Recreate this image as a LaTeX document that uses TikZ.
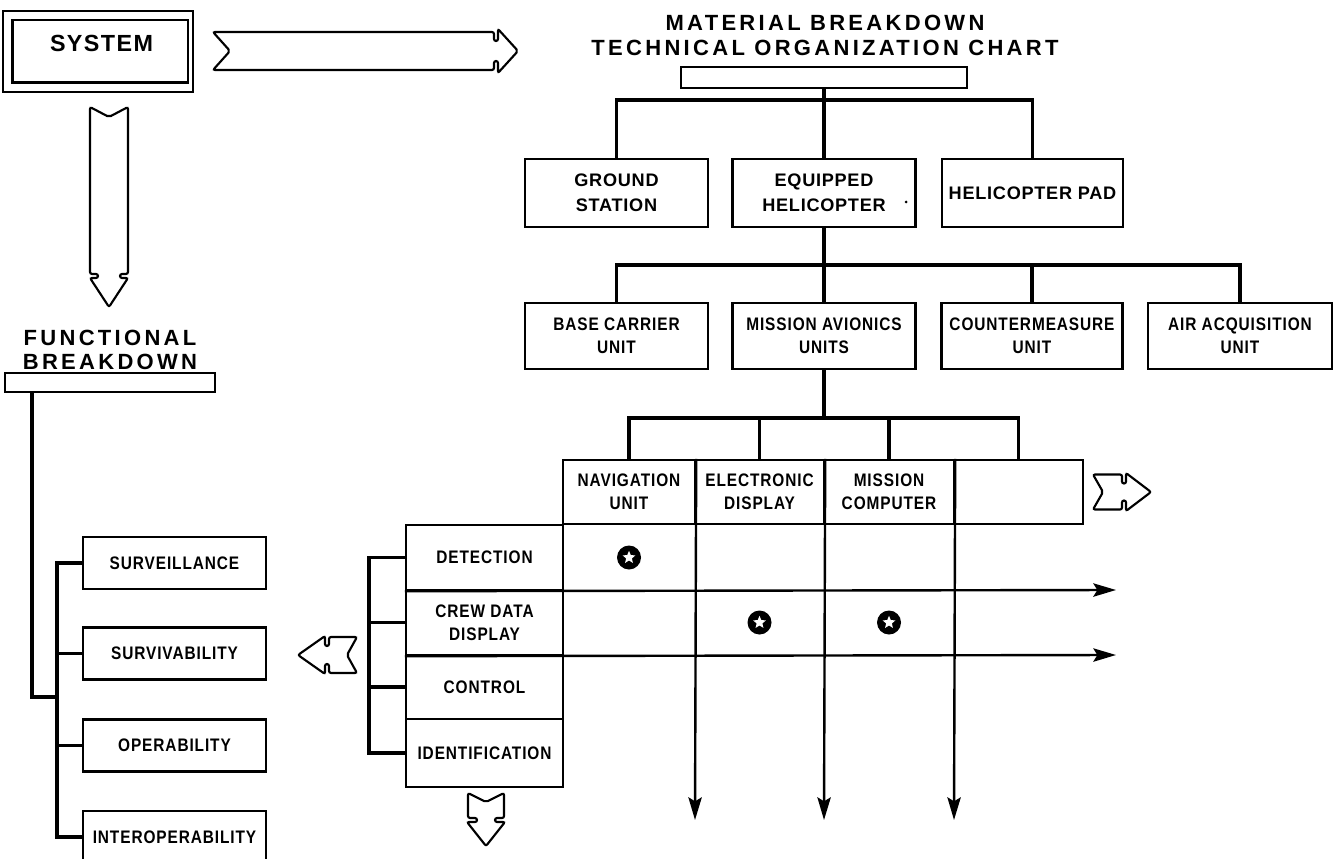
\documentclass[tikz,border=0pt]{standalone}
\usepackage{fontspec}
\setmainfont{Liberation Sans}
\newfontfamily\titf[LetterSpace=15]{Liberation Sans}
\newfontfamily\sysf[LetterSpace=6]{Liberation Sans}
\newfontfamily\medf[LetterSpace=4]{Liberation Sans}
\newfontfamily\condf[FakeStretch=0.85,LetterSpace=5]{Liberation Sans}
\usetikzlibrary{arrows.meta,shapes.geometric}
\newcommand\harrow[9]{%
\begin{scope}[shift={(#1,#2)},rotate=#3]
\draw[hollow] (0,-#5) -- ({#4-#7-3},-#5) -- ({#4-#7-3},{-#5+#8}) -- ({#4-#7+1},{-#5+#8}) -- ({#4-#7+1},-#6) -- (#4,0) -- ({#4-#7+1},#6) -- ({#4-#7+1},{#5-#8}) -- ({#4-#7-3},{#5-#8}) -- ({#4-#7-3},#5) -- (0,#5) -- (#9,0) -- cycle;
\end{scope}}
\begin{document}
\begin{tikzpicture}[x=0.75pt,y=-0.75pt,
  sz/.style 2 args={minimum width=#1*0.75pt, minimum height=#2*0.75pt},
  box/.style={draw, line width=1.8pt, inner sep=0pt, align=center},
  cell/.style={draw, line width=1.8pt, inner sep=0pt, align=center},
  boxline/.style={line width=1.8pt},
  medlab/.style={font=\medf\bfseries\fontsize{13.6}{18.75}\selectfont},
  condlab/.style={font=\condf\bfseries\fontsize{13.6}{17.25}\selectfont},
  titlab/.style={font=\titf\bfseries\fontsize{16.5}{18.75}\selectfont, align=center},
  ftitlab/.style={font=\titf\bfseries\fontsize{16.5}{18}\selectfont, align=center},
  syslab/.style={font=\sysf\bfseries\fontsize{17.5}{20}\selectfont},
  conn/.style={line width=2.6pt},
  arr/.style={line width=1.8pt, -{Stealth[length=17pt,width=10pt,inset=3pt]}},
  hollow/.style={line width=1.6pt, rounded corners=1.5pt, fill=white},
  dot/.style={circle, fill=black, inner sep=0pt, minimum size=18pt},
  wstar/.style={star, star points=5, star point ratio=2.2, fill=white, inner sep=0pt, minimum size=10pt}
]
\useasboundingbox (0,0) rectangle (1334,859);

% SYSTEM
\node[box, sz={175.5}{62.5}] (sys) at (100.25,51.25) {};
\draw[boxline] ([shift={(-8.5,-8)}]sys.north west) rectangle ([shift={(4,8.5)}]sys.south east);
\node[syslab] (systxt) at (101.5,43) {SYSTEM};

% big hollow arrows
\harrow{213}{51}{0}{305}{19}{22}{21}{9}{17}
\harrow{109}{107}{-90}{200}{19}{19}{30}{8}{10}

% material breakdown
\node[titlab] (mtitle) at (825,35) {MATERIAL BREAKDOWN\\TECHNICAL ORGANIZATION CHART};
\node[box, sz={286}{21}] (tb) at (824,77.5) {};

\node[box, medlab, sz={183}{68}] (gs) at (616.5,193) {GROUND\\STATION};
\node[box, medlab, sz={183}{68}] (eh) at (824,193) {EQUIPPED\\HELICOPTER};
\node[box, medlab, sz={181}{68}] (hp) at (1032.5,193) {HELICOPTER PAD};
\fill (906,202) circle (1.5);

\coordinate (b1) at (824,100);
\draw[conn] (tb.south) -- (eh.north);
\draw[conn] (gs.north) -- (gs.north |- b1) -- (hp.north |- b1) -- (hp.north);

\node[box, condlab, sz={183}{66}] (bc) at (616.5,336) {BASE CARRIER\\UNIT};
\node[box, condlab, sz={183}{66}] (ma) at (824,336) {MISSION AVIONICS\\UNITS};
\node[box, condlab, sz={181}{66}] (cm) at (1032,336) {COUNTERMEASURE\\UNIT};
\node[box, condlab, sz={184}{66}] (aa) at (1240,336) {AIR ACQUISITION\\UNIT};

\coordinate (b2) at (824,265);
\draw[conn] (eh.south) -- (ma.north);
\draw[conn] (bc.north) -- (bc.north |- b2) -- (aa.north |- b2) -- (aa.north);
\draw[conn] (cm.north |- b2) -- (cm.north);

% matrix header
\node[cell, condlab, sz={132}{64}] (c1) at (629,492) {NAVIGATION\\UNIT};
\node[cell, condlab, sz={129}{64}] (c2) at (759.5,492) {ELECTRONIC\\DISPLAY};
\node[cell, condlab, sz={130}{64}] (c3) at (889,492) {MISSION\\COMPUTER};
\node[cell, condlab, sz={129}{64}] (c4) at (1018.5,492) {};

\coordinate (b3) at (824,418);
\draw[conn] (ma.south) -- (ma.south |- b3);
\draw[conn] (c1.north) -- (c1.north |- b3) -- (c4.north |- b3) -- (c4.north);
\draw[conn] (c2.north |- b3) -- (c2.north);
\draw[conn] (c3.north |- b3) -- (c3.north);

% row labels
\node[cell, condlab, sz={157}{65}] (r1) at (484.5,557.5) {DETECTION};
\node[cell, condlab, sz={157}{65}] (r2) at (484.5,622.5) {CREW DATA\\DISPLAY};
\node[cell, condlab, sz={157}{64}] (r3) at (484.5,687) {CONTROL};
\node[cell, condlab, sz={157}{68}] (r4) at (484.5,753) {IDENTIFICATION};

% grid arrows
\coordinate (vt1) at (695,820);
\coordinate (vt2) at (824,820);
\coordinate (vt3) at (954,820);
\draw[arr] (c1.north east) -- (vt1);
\draw[arr] (c2.north east) -- (vt2);
\draw[arr] (c3.north east) -- (vt3);
\coordinate (ht1) at (1116,590);
\coordinate (ht2) at (1116,655);
\draw[arr] (r1.south west) -- (ht1);
\draw[arr] (r2.south west) -- (ht2);

% dots
\node[dot] (d1) at (c1 |- r1) {};
\node[dot] (d2) at (c2 |- r2) {};
\node[dot] (d3) at (c3 |- r2) {};
\node[wstar] at (d1) {};
\node[wstar] at (d2) {};
\node[wstar] at (d3) {};

% row bracket
\coordinate (rb) at (369,0);
\draw[conn] (r1.west) -- (r1.west -| rb) -- (r4.west -| rb) -- (r4.west);
\draw[conn] (r2.west -| rb) -- (r2.west);
\draw[conn] (r3.west -| rb) -- (r3.west);

% small hollow arrows
\harrow{1093}{492}{0}{58}{17.5}{19}{26}{9}{10}
\harrow{357}{655}{180}{59}{18}{19}{28}{9}{10}
\harrow{486}{793}{-90}{53}{18}{19}{25}{9}{9}

% functional breakdown
\node[ftitlab] (ftitle) at (110,350) {FUNCTIONAL\\BREAKDOWN};
\node[box, sz={210}{19}] (fb) at (110,382.5) {};
\node[box, condlab, sz={183}{52}] (f1) at (174.5,563) {SURVEILLANCE};
\node[box, condlab, sz={183}{52}] (f2) at (174.5,653.5) {SURVIVABILITY};
\node[box, condlab, sz={183}{52}] (f3) at (174.5,745.5) {OPERABILITY};
\node[box, condlab, sz={183}{52}] (f4) at (174.5,837) {INTEROPERABILITY};
\coordinate (fd) at (32,697);
\coordinate (fbus) at (57,697);
\draw[conn] (fb.south -| fd) -- (fd) -- (fbus);
\draw[conn] (f1.west) -- (f1.west -| fbus) -- (f4.west -| fbus) -- (f4.west);
\draw[conn] (f2.west -| fbus) -- (f2.west);
\draw[conn] (f3.west -| fbus) -- (f3.west);
\end{tikzpicture}
\end{document}
